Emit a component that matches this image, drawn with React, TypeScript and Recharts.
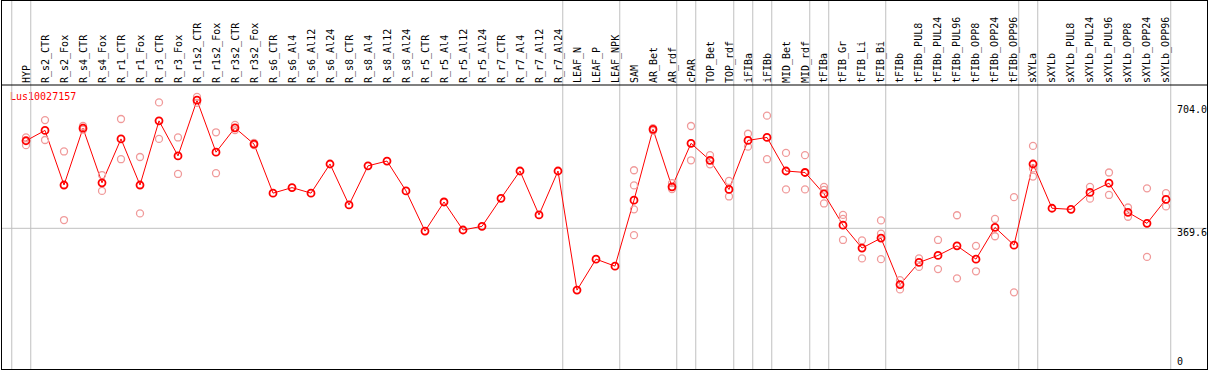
import React from 'react';
import { LineChart, Line, XAxis, YAxis, ReferenceLine, Customized } from 'recharts';

const categories = [
  'HYP', 'R_s2_CTR', 'R_s2_Fox', 'R_s4_CTR', 'R_s4_Fox', 'R_r1_CTR', 'R_r1_Fox', 'R_r3_CTR', 'R_r3_Fox',
  'R_r1s2_CTR', 'R_r1s2_Fox', 'R_r3s2_CTR', 'R_r3s2_Fox', 'R_s6_CTR', 'R_s6_Al4', 'R_s6_Al12', 'R_s6_Al24',
  'R_s8_CTR', 'R_s8_Al4', 'R_s8_Al12', 'R_s8_Al24', 'R_r5_CTR', 'R_r5_Al4', 'R_r5_Al12', 'R_r5_Al24',
  'R_r7_CTR', 'R_r7_Al4', 'R_r7_Al12', 'R_r7_Al24', 'LEAF_N', 'LEAF_P', 'LEAF_NPK', 'SAM', 'AR_Bet', 'AR_rdf',
  'cPAR', 'TOP_Bet', 'TOP_rdf', 'iFIBa', 'iFIBb', 'MID_Bet', 'MID_rdf', 'tFIBa', 'tFIB_Gr', 'tFIB_Li', 'tFIB_Bi',
  'tFIBb', 'tFIBb_PUL8', 'tFIBb_PUL24', 'tFIBb_PUL96', 'tFIBb_OPP8', 'tFIBb_OPP24', 'tFIBb_OPP96', 'sXYLa',
  'sXYLb', 'sXYLb_PUL8', 'sXYLb_PUL24', 'sXYLb_PUL96', 'sXYLb_OPP8', 'sXYLb_OPP24', 'sXYLb_OPP96',
];

const meanValues = [
  607, 635, 487, 641, 493, 612, 487, 661, 566, 717, 576, 642, 598,
  465, 480, 465, 544, 433, 539, 552, 471, 362, 441, 365, 375, 451, 525, 406, 525,
  202, 286, 267,
  446, 638, 482, 600, 554, 475, 608, 616, 525, 521, 463, 378, 316, 343,
  217, 277, 296, 322, 286, 372, 324,
  544, 424, 421, 467, 492, 413, 383, 448,
];

const N = null;
const rep1 = [
  616, 663, 578, 647, 514, 666, 563, 711, 616, 726, 630, 650, 601,
  N, N, N, N, N, N, N, N, N, N, N, N, N, N, N, N,
  N, N, N,
  527, 641, 492, 647, 568, 498, 626, 675, 574, 568, 482, 406, 337, 391,
  229, 288, 338, 405, 322, 395, 454,
  593, N, N, 482, 521, 426, 478, 465,
];
const rep2 = [
  595, 609, 392, 637, 471, 557, 410, 612, 517, 710, 519, 636, 595,
  N, N, N, N, N, N, N, N, N, N, N, N, N, N, N, N,
  N, N, N,
  486, 634, 476, 554, 543, 456, 591, 557, 475, 475, 437, 338, 288, 355,
  204, 265, 259, 234, 253, 348, 196,
  510, N, N, 450, 460, 401, 292, 429,
];
const rep3 = [
  N, N, N, N, N, N, N, N, N, N, N, N, N,
  N, N, N, N, N, N, N, N, N, N, N, N, N, N, N, N,
  N, N, N,
  421, N, N, N, N, N, N, N, N, N, 474, 395, N, 286,
  N, N, N, N, N, N, N,
  532, N, N, N, N, N, N, N,
];
const rep4 = [
  N, N, N, N, N, N, N, N, N, N, N, N, N,
  N, N, N, N, N, N, N, N, N, N, N, N, N, N, N, N,
  N, N, N,
  351, N, N, N, N, N, N, N, N, N, N, N, N, N,
  N, N, N, N, N, N, N,
  N, N, N, N, N, N, N, N,
];

// index of last category in each group (separator drawn just after it)
const groupEnds = [-1, 0, 28, 31, 34, 35, 37, 38, 39, 41, 42, 45, 52, 53, 60];

const yTicks = [0, 369.6, 704];
const yTickLabels = ['0', '369.6', '704.0'];
const gridValue = 369.6;
const title = 'Lus10027157';

const data = categories.map((name, i) => ({
  idx: i,
  name,
  mean: meanValues[i],
  r1: rep1[i],
  r2: rep2[i],
  r3: rep3[i],
  r4: rep4[i],
}));

const X_DOMAIN: [number, number] = [-1.316, 62.158];
const Y_DOMAIN: [number, number] = [-11.9, 758.2];
const Y_HEADER_TOP = 988.7;
const FONT = '"DejaVu Sans Mono", monospace';
const PALE = '#f09a9a';

const CatTick = (props: any) => {
  const { x, y, payload } = props;
  const label = categories[payload.value] ?? '';
  return (
    <text
      transform={`translate(${x + 3.5},${y}) rotate(-90)`}
      textAnchor="start"
      fontFamily={FONT}
      fontSize={10}
      fill="#000"
    >
      {label}
    </text>
  );
};

const makeValLabel = (text: string, dy: number) => (props: any) => {
  const vb = props.viewBox || {};
  const x = (vb.x ?? 0) + (vb.width ?? 0) - 30;
  const y = (vb.y ?? 0) + dy;
  return (
    <text x={x} y={y} textAnchor="start" fontFamily={FONT} fontSize={10} fill="#000">
      {text}
    </text>
  );
};

const Title = () => (
  <text x={10} y={100} fontFamily={FONT} fontSize={10} fill="#ff0000">
    {title}
  </text>
);

const paleDot = { r: 3.5, stroke: PALE, strokeWidth: 1.3, fill: 'none' };

export default function App() {
  return (
    <div style={{ position: 'absolute', left: 0, top: 0, width: 1209, height: 370, background: '#fff' }}>
      <LineChart
        width={1209}
        height={370}
        data={data}
        margin={{ top: 0, right: 2, bottom: 1, left: 1 }}
      >
        <XAxis
          dataKey="idx"
          type="number"
          orientation="top"
          domain={X_DOMAIN}
          allowDataOverflow
          ticks={categories.map((_, i) => i)}
          interval={0}
          height={85}
          tickLine={false}
          tickSize={0}
          tickMargin={2}
          axisLine={{ stroke: '#000', strokeWidth: 1 }}
          tick={<CatTick />}
        />
        <YAxis type="number" domain={Y_DOMAIN} allowDataOverflow hide width={0} />
        <ReferenceLine y={gridValue} stroke="#c0c0c0" strokeWidth={1} />
        {yTicks.map((v, i) => (
          <ReferenceLine
            key={`yl-${v}`}
            y={v}
            stroke="none"
            ifOverflow="visible"
            label={makeValLabel(yTickLabels[i], v === 0 ? 0 : 8)}
          />
        ))}
        {groupEnds.map((e) => (
          <ReferenceLine
            key={`sep-${e}`}
            segment={[{ x: e + 0.25, y: Y_DOMAIN[0] }, { x: e + 0.25, y: Y_HEADER_TOP }]}
            ifOverflow="visible"
            stroke="#c0c0c0"
            strokeWidth={1}
          />
        ))}
        <Line dataKey="r1" stroke="none" dot={paleDot} isAnimationActive={false} />
        <Line dataKey="r2" stroke="none" dot={paleDot} isAnimationActive={false} />
        <Line dataKey="r3" stroke="none" dot={paleDot} isAnimationActive={false} />
        <Line dataKey="r4" stroke="none" dot={paleDot} isAnimationActive={false} />
        <Line
          dataKey="mean"
          stroke="#ff0000"
          strokeWidth={1}
          dot={{ r: 3.5, stroke: '#ff0000', strokeWidth: 1.8, fill: 'none' }}
          isAnimationActive={false}
        />
        <Customized component={Title} />
      </LineChart>
      <div
        style={{
          position: 'absolute',
          left: 1,
          top: 0,
          width: 1205,
          height: 368,
          border: '1px solid #000',
          pointerEvents: 'none',
        }}
      />
    </div>
  );
}
